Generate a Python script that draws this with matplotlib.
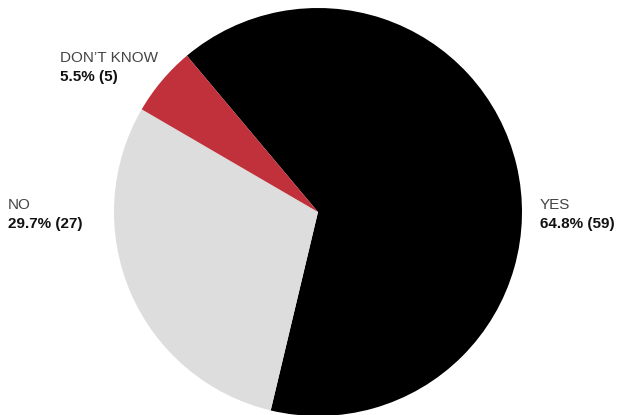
import matplotlib
matplotlib.use("Agg")
import matplotlib.pyplot as plt

labels = ["YES", "NO", "DON\u2019T KNOW"]
counts = [59, 27, 5]
percents = [64.8, 29.7, 5.5]
colors = ["#000000", "#dddddd", "#c1313b"]

plt.rcParams['font.family'] = ['Liberation Sans', 'DejaVu Sans']

fig = plt.figure(figsize=(6.18, 4.15), dpi=100)
ax = fig.add_axes([0, 0, 1, 1])

# pixel-like data coords: pie centre at (318, 212) in the image
cx, cy, r = 318, 212, 204
ax.pie(counts, colors=colors, startangle=130, counterclock=False,
       radius=r, center=(0, 0), wedgeprops=dict(linewidth=0))
ax.set_xlim(-cx, 618 - cx)
ax.set_ylim(-(415 - cy), cy)
ax.set_aspect("equal")
ax.axis("off")

# label anchor points (image pixels: left x, baseline of first line)
label_pos = [(540, 209), (8, 209), (60, 62)]
for lab, pct, n, (px, py) in zip(labels, percents, counts, label_pos):
    x, y = px - cx, cy - py
    ax.text(x, y, lab, fontsize=11, color="#444444", ha="left", va="baseline")
    ax.text(x, y - 19, f"{pct}% ({n})", fontsize=11, fontweight="bold",
            color="#111111", ha="left", va="baseline")

fig.savefig("out.png", dpi=100)
